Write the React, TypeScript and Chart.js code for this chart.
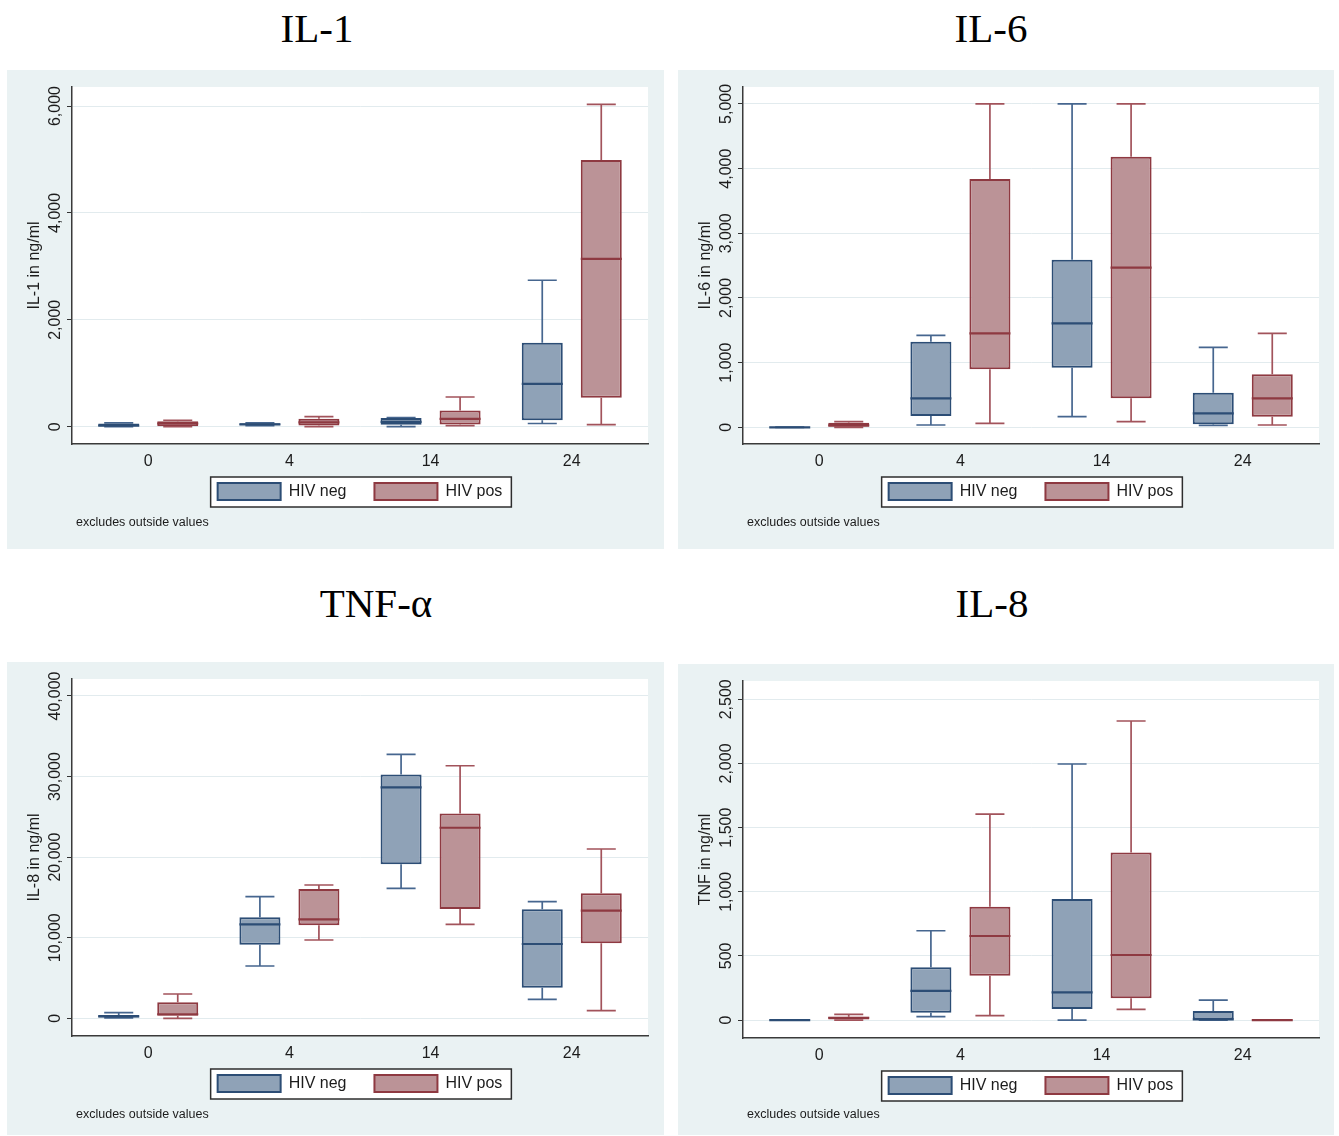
import React, { useEffect, useRef } from "react";
import { Chart, registerables } from "chart.js";

Chart.register(...registerables);

const SANS = '"Liberation Sans", Arial, Helvetica, sans-serif';
const SERIF = '"Liberation Serif", "Times New Roman", Times, serif';

const timepoints = ["0", "4", "14", "24"];
const groupLabels = ["HIV neg", "HIV pos"];
const panelTitles = ["IL-1", "IL-6", "TNF-α", "IL-8"];
const yAxisTitles = ["IL-1 in ng/ml", "IL-6 in ng/ml", "IL-8 in ng/ml", "TNF in ng/ml"];
const noteText = "excludes outside values";

// Five-number summaries per timepoint: [lower whisker, Q1, median, Q3, upper whisker]
const il1Neg = [[0, 0, 20, 60, 70], [20, 25, 45, 65, 70], [0, 37, 90, 163, 170], [60, 120, 800, 1570, 2740]];
const il1Pos = [[0, 10, 60, 100, 120], [0, 20, 80, 150, 190], [20, 40, 145, 305, 555], [40, 540, 3140, 4990, 6030]];

const il6Neg = [[0, 0, 0, 5, 5], [36, 175, 448, 1324, 1422], [165, 922, 1608, 2592, 5000], [30, 46, 216, 535, 1237]];
const il6Pos = [[0, 0, 30, 71, 87], [62, 897, 1453, 3840, 5000], [87, 448, 2468, 4184, 5000], [36, 165, 448, 819, 1453]];

const il8Neg = [[50, 100, 250, 400, 700], [6490, 9130, 11660, 12530, 15090], [16130, 19110, 28660, 30270, 32750], [2360, 3800, 9220, 13520, 14470]];
const il8Pos = [[0, 323, 500, 1985, 3015], [9715, 11540, 12280, 16040, 16540], [11660, 13560, 23650, 25430, 31340], [945, 9300, 13350, 15510, 21010]];

const tnfNeg = [[0, 0, 0, 0, 0], [26, 57, 228, 411, 696], [0, 86, 216, 943, 1996], [0, 0, 5, 70, 156]];
const tnfPos = [[0, 0, 18, 26, 44], [34, 345, 655, 883, 1606], [83, 169, 507, 1307, 2331], [0, 0, 0, 0, 0]];

const il1Ticks = [0, 2000, 4000, 6000];
const il6Ticks = [0, 1000, 2000, 3000, 4000, 5000];
const il8Ticks = [0, 10000, 20000, 30000, 40000];
const tnfTicks = [0, 500, 1000, 1500, 2000, 2500];

const panels = [
  { title: panelTitles[0], yTitle: yAxisTitles[0], neg: il1Neg, pos: il1Pos, ticks: il1Ticks, yMin: -324, yMax: 6356, left: 7, top: 70, w: 657, h: 479, titleX: 317, titleBase: 42, noteTop: 445 },
  { title: panelTitles[1], yTitle: yAxisTitles[1], neg: il6Neg, pos: il6Pos, ticks: il6Ticks, yMin: -258, yMax: 5262, left: 678, top: 70, w: 656, h: 479, titleX: 991, titleBase: 42, noteTop: 445 },
  { title: panelTitles[2], yTitle: yAxisTitles[2], neg: il8Neg, pos: il8Pos, ticks: il8Ticks, yMin: -2197, yMax: 42107, left: 7, top: 662, w: 657, h: 473, titleX: 376, titleBase: 617, noteTop: 445 },
  { title: panelTitles[3], yTitle: yAxisTitles[3], neg: tnfNeg, pos: tnfPos, ticks: tnfTicks, yMin: -140, yMax: 2643, left: 678, top: 664, w: 656, h: 471, titleX: 992, titleBase: 617, noteTop: 443 },
];

const NEG_FILL = "#8fa2b7";
const NEG_LINE = "#2c4d75";
const NEG_WHISK = "#46668f";
const POS_FILL = "#bb9397";
const POS_LINE = "#8e3941";
const POS_WHISK = "#a2535b";
const TEXT = "#1c1c1c";

const boxPlotPlugin = {
  id: "boxPlotParts",
  beforeDraw(chart: any) {
    const { ctx, chartArea: a } = chart;
    ctx.save();
    ctx.fillStyle = "#ffffff";
    ctx.fillRect(a.left, a.top, a.right - a.left, a.bottom - a.top);
    const boxes = chart.legend && chart.legend.legendHitBoxes;
    if (boxes && boxes.length) {
      const l = Math.min(...boxes.map((b: any) => b.left)) - 7;
      const r = Math.max(...boxes.map((b: any) => b.left + b.width)) + 9;
      const t = boxes[0].top - 6;
      const bt = boxes[0].top + boxes[0].height + 7;
      ctx.fillRect(l, t, r - l, bt - t);
      ctx.strokeStyle = "#2e2e2e";
      ctx.lineWidth = 1.5;
      ctx.strokeRect(l, t, r - l, bt - t);
    }
    ctx.restore();
  },
  beforeDatasetsDraw(chart: any) {
    const { ctx } = chart;
    const ys = chart.scales.y;
    ctx.save();
    chart.data.datasets.forEach((ds: any, di: number) => {
      const meta = chart.getDatasetMeta(di);
      ctx.strokeStyle = ds.whiskerColor;
      ctx.lineWidth = 1.7;
      meta.data.forEach((el: any, j: number) => {
        const s = ds.stats[j];
        const { x, width } = el.getProps(["x", "width"], true);
        const cap = width * 0.354;
        const yMin = ys.getPixelForValue(s[0]);
        const yQ1 = ys.getPixelForValue(s[1]);
        const yQ3 = ys.getPixelForValue(s[3]);
        const yMax = ys.getPixelForValue(s[4]);
        ctx.beginPath();
        ctx.moveTo(x, yQ3);
        ctx.lineTo(x, yMax);
        ctx.moveTo(x, yQ1);
        ctx.lineTo(x, yMin);
        ctx.moveTo(x - cap, yMax);
        ctx.lineTo(x + cap, yMax);
        ctx.moveTo(x - cap, yMin);
        ctx.lineTo(x + cap, yMin);
        ctx.stroke();
      });
    });
    ctx.restore();
  },
  afterDatasetsDraw(chart: any) {
    const { ctx } = chart;
    const ys = chart.scales.y;
    ctx.save();
    chart.data.datasets.forEach((ds: any, di: number) => {
      const meta = chart.getDatasetMeta(di);
      ctx.strokeStyle = ds.borderColor;
      ctx.lineWidth = 2.2;
      meta.data.forEach((el: any, j: number) => {
        const s = ds.stats[j];
        const { x, width } = el.getProps(["x", "width"], true);
        const yMed = ys.getPixelForValue(s[2]);
        ctx.beginPath();
        ctx.moveTo(x - width / 2, yMed);
        ctx.lineTo(x + width / 2, yMed);
        ctx.stroke();
      });
    });
    ctx.restore();
  },
  afterDraw(chart: any) {
    const { ctx, chartArea } = chart;
    const ys = chart.scales.y;
    const xs = chart.scales.x;
    ctx.save();
    ctx.font = `16px ${SANS}`;
    ctx.fillStyle = TEXT;
    ctx.textAlign = "center";
    ctx.textBaseline = "middle";
    ys.ticks.forEach((t: any) => {
      const py = ys.getPixelForValue(t.value);
      ctx.save();
      ctx.translate(chartArea.left - 16.5, py);
      ctx.rotate(-Math.PI / 2);
      ctx.fillText(Number(t.value).toLocaleString("en-US"), 0, 0);
      ctx.restore();
    });
    xs.ticks.forEach((t: any) => {
      const px = xs.getPixelForValue(t.value);
      ctx.fillText(timepoints[Number(t.value)] ?? "", px, chartArea.bottom + 18);
    });
    ctx.restore();
  },
};

function makeDataset(label: string, stats: number[][], fill: string, line: string, whisk: string) {
  return {
    label,
    data: stats.map((s, i) => ({ x: i, y: [s[1], s[3]] })),
    backgroundColor: fill,
    borderColor: line,
    borderWidth: 2,
    borderSkipped: false,
    stats,
    whiskerColor: whisk,
  };
}

function Panel({ cfg }: { cfg: any }) {
  const ref = useRef<HTMLCanvasElement>(null);
  useEffect(() => {
    if (!ref.current) return;
    const chart = new Chart(ref.current, {
      type: "bar",
      data: {
        datasets: [
          makeDataset(groupLabels[0], cfg.neg, NEG_FILL, NEG_LINE, NEG_WHISK) as any,
          makeDataset(groupLabels[1], cfg.pos, POS_FILL, POS_LINE, POS_WHISK) as any,
        ],
      },
      options: {
        responsive: false,
        animation: false,
        devicePixelRatio: 1,
        events: [],
        layout: { padding: { top: 17, right: cfg.w - 641, bottom: cfg.h - 440, left: 0 } },
        datasets: { bar: { categoryPercentage: 0.836, barPercentage: 0.695 } } as any,
        scales: {
          x: {
            type: "linear",
            offset: false,
            min: -0.54,
            max: 3.54,
            afterBuildTicks: (s: any) => {
              s.ticks = timepoints.map((_, i) => ({ value: i }));
            },
            afterFit: (s: any) => {
              s.height = 11;
            },
            grid: { display: false, drawTicks: false },
            border: { display: true, color: "#3a3a3a", width: 1.5 },
            ticks: { display: false },
          },
          y: {
            type: "linear",
            min: cfg.yMin,
            max: cfg.yMax,
            afterBuildTicks: (s: any) => {
              s.ticks = cfg.ticks.map((v: number) => ({ value: v }));
            },
            afterFit: (s: any) => {
              s.width = 65;
            },
            grid: { color: "#e2ebee", lineWidth: 1, tickColor: "#333333", tickLength: 5, drawTicks: true },
            border: { display: true, color: "#3a3a3a", width: 1.5 },
            ticks: { display: false },
            title: {
              display: true,
              text: cfg.yTitle,
              font: { family: SANS, size: 16 },
              color: TEXT,
              padding: { top: 18, bottom: 0 },
            },
          },
        },
        plugins: {
          legend: {
            position: "bottom",
            fullSize: false,
            labels: {
              boxWidth: 63,
              boxHeight: 17,
              padding: 28,
              font: { family: SANS, size: 16 },
              color: TEXT,
            },
          },
          tooltip: { enabled: false },
          title: { display: false },
        },
      } as any,
      plugins: [boxPlotPlugin as any],
    });
    return () => chart.destroy();
  }, [cfg]);

  return (
    <div
      style={{
        position: "absolute",
        left: cfg.left,
        top: cfg.top,
        width: cfg.w,
        height: cfg.h,
        background: "#eaf2f3",
      }}
    >
      <canvas ref={ref} width={cfg.w} height={cfg.h} style={{ display: "block", width: cfg.w, height: cfg.h }} />
      <div
        style={{
          position: "absolute",
          left: 69,
          top: cfg.noteTop,
          fontFamily: SANS,
          fontSize: 12.5,
          lineHeight: "15px",
          color: TEXT,
          whiteSpace: "nowrap",
        }}
      >
        {noteText}
      </div>
    </div>
  );
}

export default function App() {
  return (
    <div
      style={{
        position: "absolute",
        left: 0,
        top: 0,
        width: 1339,
        height: 1136,
        background: "#ffffff",
        overflow: "hidden",
      }}
    >
      {panels.map((p, i) => (
        <div
          key={"t" + i}
          style={{
            position: "absolute",
            left: p.titleX - 200,
            top: p.titleBase - 34.3,
            width: 400,
            textAlign: "center",
            fontFamily: SERIF,
            fontSize: 41,
            lineHeight: "41px",
            color: "#000000",
            whiteSpace: "nowrap",
          }}
        >
          {p.title}
        </div>
      ))}
      {panels.map((p, i) => (
        <Panel key={"p" + i} cfg={p} />
      ))}
    </div>
  );
}
